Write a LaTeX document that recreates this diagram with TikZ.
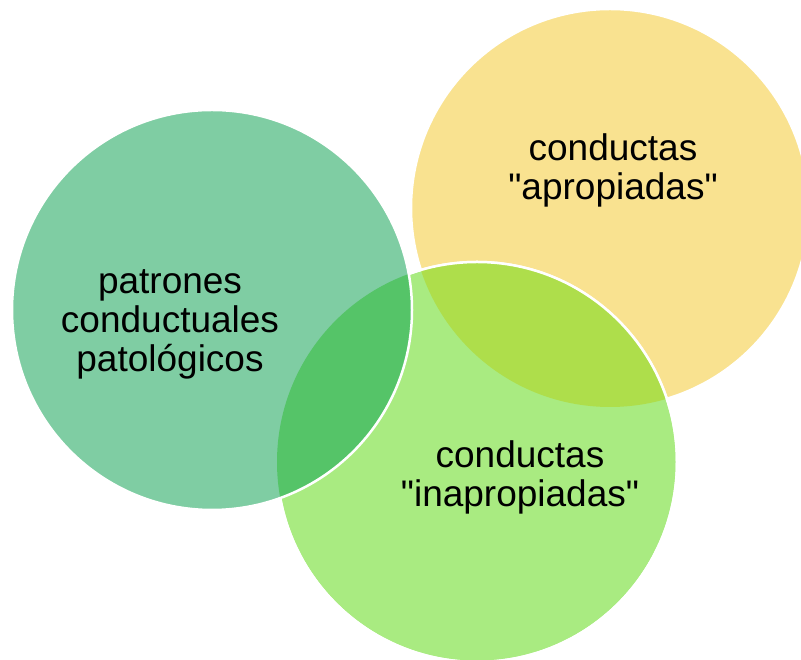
\documentclass[tikz,border=0pt]{standalone}
\usepackage{fontspec}
\setmainfont{Liberation Sans}
\definecolor{cLeft}{HTML}{7FCDA3}
\definecolor{cBottom}{HTML}{A9EB81}
\definecolor{cYellow}{HTML}{F9E290}
\definecolor{cLB}{HTML}{55C468}
\definecolor{cYB}{HTML}{AEDE4B}
\tikzset{
  ring/.style={draw=white, line width=2.5pt},
  lbl/.style={align=center, text=black, font=\fontsize{37}{39}\selectfont, inner sep=0pt}
}
\begin{document}
\begin{tikzpicture}[x=1pt,y=1pt]
\useasboundingbox (0,0) rectangle (801,660);
\coordinate (L) at (212,350);
\coordinate (Y) at (610,452);
\coordinate (B) at (477,198);
\def\rL{200}
\def\rY{199}
\def\rB{200}
% yellow
\fill[cYellow] (Y) circle (\rY);
\draw[ring] (Y) circle (\rY);
% bottom
\fill[cBottom] (B) circle (\rB);
\draw[ring] (B) circle (\rB);
\begin{scope}
  \clip (Y) circle (\rY);
  \fill[cYB] (B) circle (\rB);
\end{scope}
\draw[ring] (B) circle (\rB);
% left
\fill[cLeft] (L) circle (\rL);
\begin{scope}
  \clip (L) circle (\rL);
  \fill[cLB] (B) circle (\rB);
\end{scope}
\draw[ring] (L) circle (\rL);
% labels
\node[lbl] (tL) at (170,336) {patrones\\conductuales\\patológicos};
\node[lbl] (tY) at (613,490) {conductas\\\textquotedbl apropiadas\textquotedbl};
\node[lbl] (tB) at (520,183) {conductas\\\textquotedbl inapropiadas\textquotedbl};
\end{tikzpicture}
\end{document}
